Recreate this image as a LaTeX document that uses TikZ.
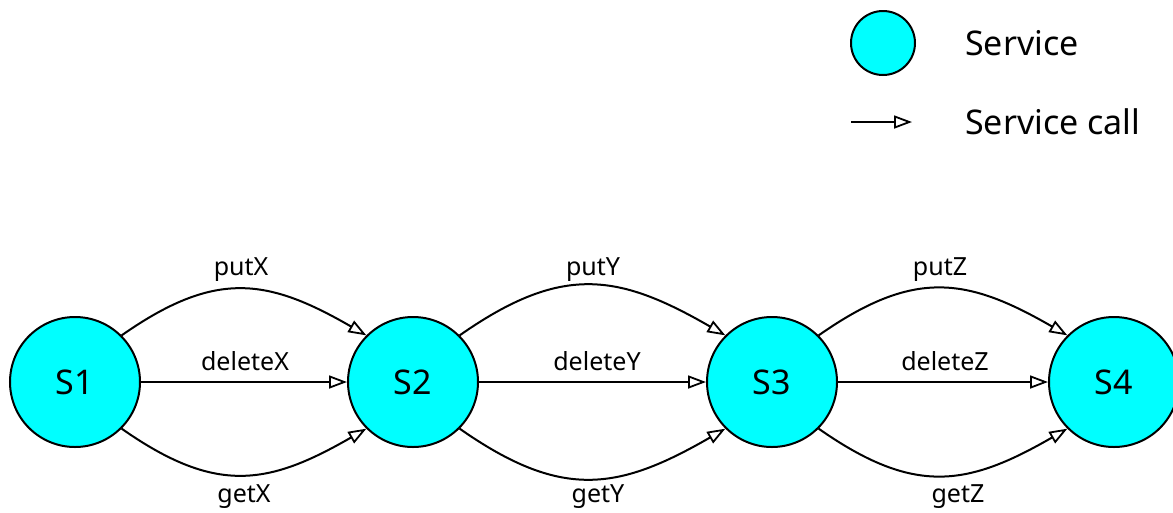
\documentclass[tikz,border=0pt]{standalone}
\usepackage{fontspec}
\setmainfont{Noto Sans}
\usetikzlibrary{arrows.meta}
\definecolor{svcfill}{RGB}{0,255,255}
\begin{document}
\begin{tikzpicture}[x=1pt,y=-1pt,
  service/.style={circle,draw=black,line width=2pt,fill=svcfill,minimum size=130pt,inner sep=0pt,font=\fontsize{34}{40}\selectfont},
  legendsvc/.style={circle,draw=black,line width=2pt,fill=svcfill,minimum size=64pt,inner sep=0pt},
  call/.style={line width=2pt,-{Triangle[open,length=18pt,width=13pt,line width=1.8pt]}},
  lbl/.style={font=\fontsize{25}{30}\selectfont,inner sep=0pt},
  legtext/.style={anchor=west,font=\fontsize{34}{40}\selectfont,inner sep=0pt}]
\useasboundingbox (0,0) rectangle (1173,512);
\clip (0,0) rectangle (1173,512);

% services
\node[service] (S1) at (75,382) {S1};
\node[service] (S2) at (413,382) {S2};
\node[service] (S3) at (772,382) {S3};
\node[service] (S4) at (1114,382) {S4};

% calls between neighbouring services
\foreach \a/\b in {S1/S2,S2/S3,S3/S4}{
  \draw[call] (\a.45) to[out=35,in=150,looseness=1.2] (\b.135);
  \draw[call] (\a.east) -- (\b.west);
  \draw[call] (\a.-45) to[out=-35,in=-150,looseness=1.2] (\b.-135);
}

% call labels
\node[lbl] (putX) at (241,270) {putX};
\node[lbl] (deleteX) at (245,361) {deleteX};
\node[lbl] (getX) at (244,497) {getX};
\node[lbl] (putY) at (593,270) {putY};
\node[lbl] (deleteY) at (597,361) {deleteY};
\node[lbl] (getY) at (598,497) {getY};
\node[lbl] (putZ) at (940,270) {putZ};
\node[lbl] (deleteZ) at (945,361) {deleteZ};
\node[lbl] (getZ) at (958,497) {getZ};

% legend
\node[legendsvc] (legsvc) at (883,43) {};
\node[legtext] (legsvctext) at (965,43) {Service};
\coordinate (legA) at (851,122);
\coordinate (legB) at (912,122);
\draw[call] (legA) -- (legB);
\node[legtext] (legcalltext) at (965,122) {Service call};
\end{tikzpicture}
\end{document}
